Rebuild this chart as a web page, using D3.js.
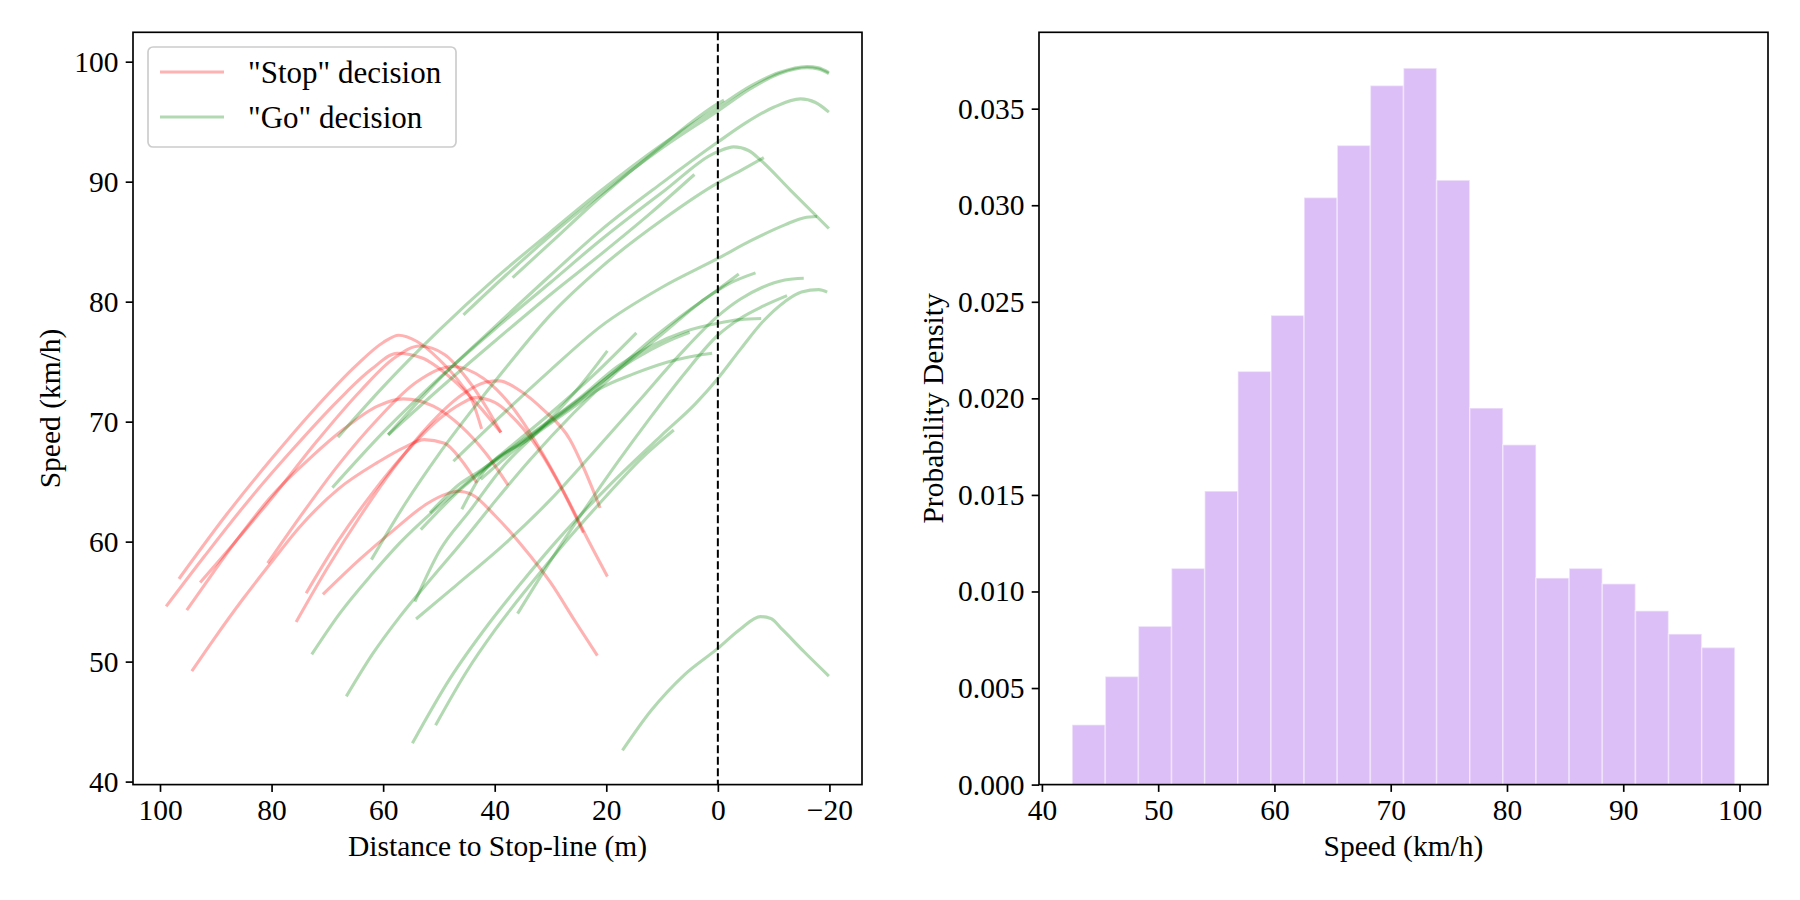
<!DOCTYPE html>
<html>
<head>
<meta charset="utf-8">
<script src="https://cdn.jsdelivr.net/npm/d3@7.9.0/dist/d3.min.js"></script>
<style>
  html, body { margin: 0; padding: 0; background: #fff; }
  svg { display: block; font-family: "Liberation Serif", "Times New Roman", serif; }
</style>
</head>
<body>
<svg id="chart" width="1800" height="900"></svg>
<script>
// speed profiles: [distance to stop-line (m), speed (km/h)]
const stopRuns = [
  [[96.6,56.9],[88,62.3],[80,66.9],[72,71.2],[65,74.6],[60,76.6],[57.2,77.2],[54,76.7],[50,75.2],[46,73.1],[44,71.7],[42.35,69.4]],
  [[98.9,54.6],[92,58.8],[84,63.5],[76,67.8],[68,71.8],[62,74.4],[57.5,75.7],[53,75.3],[48,73.7],[43,71.4],[38.9,69.1]],
  [[92.8,56.6],[86.3,60.1],[80,63.6],[72,68.3],[64,72.6],[58,75.3],[53.5,76.3],[49,75.6],[45,73.6],[41.5,71.2],[38.9,69.1]],
  [[80.7,58.2],[75,62.0],[68,66.4],[61,70.2],[54,73.3],[47.5,74.6],[42,73.6],[37,71.3],[32,67.8],[27,63.6],[23,59.9],[19.8,57.1]],
  [[95.2,54.3],[90.5,57.4],[86.3,60.1],[80,63.8],[73,67.0],[67,69.4],[61,71.3],[56.4,71.9],[51,71.3],[46,69.6],[41.5,67.3],[37.6,64.7]],
  [[75.6,53.3],[70,57.8],[64,62.2],[58,66.2],[52,69.6],[46,72.2],[41.5,73.3],[39.2,73.4],[35.5,72.6],[31.3,71.0],[26.5,68.5],[24.1,66.2],[21.1,62.8]],
  [[73.8,55.7],[68,60.1],[62,64.0],[56,67.4],[50,70.2],[46,71.5],[43.5,72.0],[40,71.6],[36,70.0],[32,67.6],[28,64.4],[24.1,60.75]],
  [[70.8,55.6],[64,58.6],[58,61.0],[52,63.2],[48.5,64.0],[46.6,64.2],[44,63.9],[40,62.2],[35,59.6],[30,56.6],[25.5,53.3],[21.6,50.5]],
  [[94.3,49.2],[90.3,51.9],[85,55.3],[80,58.3],[75,61.2],[68,64.4],[61,66.6],[56,67.9],[52.6,68.5],[49,68.2],[46,66.8],[43.2,64.9]]
];

const goRuns = [
  [[68.1,68.7],[60,72.9],[50,77.6],[40,81.9],[30,85.8],[21.1,89.2],[10,93.1],[0,96.2],[-6,98.0],[-11,99.1],[-16,99.6],[-18,99.5],[-19.9,99.1]],
  [[45.6,78.9],[38,82.2],[30,85.5],[21.1,88.9],[10,92.8],[0,95.9],[-6,97.8],[-11,99.0],[-16,99.5],[-18,99.4],[-19.9,99.0]],
  [[36.8,82.0],[30,84.9],[21.1,88.7],[10,93.0],[0,96.5],[-1.1,96.8]],
  [[59.1,68.9],[50,73.5],[40,77.9],[30,82.2],[21.1,85.9],[10,89.9],[0,93.3],[-5,94.9],[-10,96.2],[-14.8,96.9],[-17.5,96.6],[-19.9,95.8]],
  [[69.1,64.5],[60,69.1],[50,73.6],[40,77.7],[30,81.6],[21.1,85.1],[10,89.1],[0,92.5],[-2.85,92.9],[-5.5,92.6],[-7.65,91.8],[-13,89.3],[-19.9,86.1]],
  [[59.1,68.9],[50,72.7],[40,76.7],[30,80.6],[21.1,83.9],[12,87.4],[4.2,90.6]],
  [[62.1,58.5],[56,63.2],[50,67.3],[44,71.0],[38,74.5],[30,78.9],[21.1,82.8],[10,86.8],[0,89.9],[-4,90.9],[-8.24,92.0]],
  [[47.4,66.7],[40,70.0],[30,74.3],[21.1,77.9],[10,81.2],[0,83.6],[-6,85.1],[-12,86.4],[-15.5,87.0],[-17.8,87.1]],
  [[53.25,61.0],[46,64.4],[42.65,65.7],[33.7,68.8],[24.7,71.9],[18,74.3],[12,76.0],[8,76.9],[5.05,77.45]],
  [[45.9,62.7],[42.65,65.4],[33.7,68.6],[24.7,71.6],[21.7,72.6],[15,74.0],[8,75.1],[4,75.5],[1.03,75.7]],
  [[51.6,62.4],[46,64.9],[42.65,65.9],[33.7,68.9],[24.7,72.0],[18,74.6],[12,76.3],[6,77.5],[0,78.2],[-4,78.5],[-7.77,78.6]],
  [[72.8,50.6],[67.8,54.0],[61.8,57.4],[57,59.9],[51.6,62.3],[45,64.9],[38,67.6],[30,70.7],[22,74.0],[14.6,77.4]],
  [[54.3,55.0],[49.8,59.3],[44.4,62.6],[38.4,66.3],[31.3,69.6],[25,72.8],[19.8,75.9]],
  [[66.6,47.1],[61.8,50.7],[57,53.75],[51.6,56.8],[45.6,60.1],[39.7,63.5],[33.7,66.8],[25.9,70.7],[18,74.2],[10,77.3],[3,80.0],[0,81.0],[-3.75,82.3]],
  [[42.5,65.2],[33.7,68.7],[24.7,71.8],[19,74.0],[11,77.2],[3,80.0],[-2,81.5],[-6.75,82.4]],
  [[54.1,53.55],[46.8,56.4],[38,59.9],[30,63.5],[22,67.6],[14,71.8],[7,75.5],[0,78.8],[-4,80.2],[-8,81.2],[-12,81.8],[-15.4,81.95]],
  [[35.9,54.0],[30,58.4],[24,62.6],[18,66.6],[12,70.4],[6,74.0],[0,77.2],[-4,78.6],[-8,79.6],[-12.4,80.5]],
  [[54.75,43.2],[48,48.6],[41,53.2],[35,56.7],[29,60.0],[19,64.9],[10,68.9],[4,71.5],[0,73.6],[-4,76.0],[-8,78.3],[-12,80.0],[-15,80.8],[-18.1,81.0],[-19.6,80.8]],
  [[50.6,44.7],[45,49.2],[40,52.6],[34,56.2],[28,59.6],[20,63.8],[14,66.8],[7.9,69.3]],
  [[17.1,42.6],[12,45.9],[6,48.9],[0,51.1],[-4,52.7],[-7.65,53.75],[-9.5,53.6],[-11.5,52.7],[-15.5,50.8],[-19.9,48.8]]
];

// histogram of speeds
const binEdges = [42.6, 45.45, 48.3, 51.15, 54.0, 56.85, 59.7, 62.55, 65.4, 68.25, 71.1,
                  73.95, 76.8, 79.65, 82.5, 85.35, 88.2, 91.05, 93.9, 96.75, 99.6];
const densities = [0.0031, 0.0056, 0.0082, 0.0112, 0.0152, 0.0214, 0.0243, 0.0304, 0.0331, 0.0362,
                   0.0371, 0.0313, 0.0195, 0.0176, 0.0107, 0.0112, 0.0104, 0.0090, 0.0078, 0.0071];

const distTicks = [100, 80, 60, 40, 20, 0, -20];
const speedTicks = [40, 50, 60, 70, 80, 90, 100];
const histSpeedTicks = [40, 50, 60, 70, 80, 90, 100];
const densityTicks = [0, 0.005, 0.010, 0.015, 0.020, 0.025, 0.030, 0.035];

const fontPx = 29.5;
const legendFontPx = 31;
const lineW = 3.1;
const spineW = 1.67;
const tickLen = 7.3;
const tickPad = 7.3;

const svg = d3.select('#chart');

const plotTop = 32.3, plotBottom = 784.6;
const left1 = 133, right1 = 862;
const left2 = 1039, right2 = 1768;

function padded(ext) {
    const m = (ext[1] - ext[0]) * 0.05;
    return [ext[0] - m, ext[1] + m];
}

// ---------- left panel ----------
const allPts = stopRuns.concat(goRuns).flat();
const dExt = padded(d3.extent(allPts, d => d[0]));
const vExt = padded(d3.extent(allPts, d => d[1]));

const x1 = d3.scaleLinear().domain([dExt[1], dExt[0]]).range([left1, right1]);
const y1 = d3.scaleLinear().domain(vExt).range([plotBottom, plotTop]);

const g1 = svg.append('g');

const line1 = d3.line()
    .x(d => x1(d[0]))
    .y(d => y1(d[1]))
    .curve(d3.curveMonotoneX);

g1.selectAll('path.stop')
    .data(stopRuns)
    .join('path')
    .attr('class', 'stop')
    .attr('d', line1)
    .attr('fill', 'none')
    .attr('stroke', 'red')
    .attr('stroke-opacity', 0.3)
    .attr('stroke-width', lineW);

g1.selectAll('path.go')
    .data(goRuns)
    .join('path')
    .attr('class', 'go')
    .attr('d', line1)
    .attr('fill', 'none')
    .attr('stroke', 'green')
    .attr('stroke-opacity', 0.3)
    .attr('stroke-width', lineW);

// stop-line
g1.append('line')
    .attr('x1', x1(0)).attr('x2', x1(0))
    .attr('y1', plotTop).attr('y2', plotBottom)
    .attr('stroke', 'black')
    .attr('stroke-width', 2)
    .attr('stroke-dasharray', '8,3.5');

const fmtDist = d => d < 0 ? '\u2212' + Math.abs(d) : String(d);

function styleAxis(g) {
    g.select('.domain').remove();
    g.selectAll('.tick line').attr('stroke', 'black').attr('stroke-width', spineW);
    g.selectAll('.tick text').attr('fill', 'black').style('font-size', fontPx + 'px')
        .style('font-family', '"Liberation Serif", "Times New Roman", serif');
}

svg.append('g')
    .attr('transform', `translate(0,${plotBottom})`)
    .call(d3.axisBottom(x1).tickValues(distTicks).tickFormat(fmtDist)
        .tickSize(tickLen).tickPadding(tickPad).tickSizeOuter(0))
    .call(styleAxis);

svg.append('g')
    .attr('transform', `translate(${left1},0)`)
    .call(d3.axisLeft(y1).tickValues(speedTicks).tickFormat(d3.format('d'))
        .tickSize(tickLen).tickPadding(tickPad).tickSizeOuter(0))
    .call(styleAxis);

svg.append('rect')
    .attr('x', left1).attr('y', plotTop)
    .attr('width', right1 - left1).attr('height', plotBottom - plotTop)
    .attr('fill', 'none').attr('stroke', 'black').attr('stroke-width', spineW);

svg.append('text')
    .attr('x', (left1 + right1) / 2).attr('y', 856)
    .attr('text-anchor', 'middle')
    .style('font-size', fontPx + 'px')
    .text('Distance to Stop-line (m)');

svg.append('text')
    .attr('transform', `translate(60,${(plotTop + plotBottom) / 2}) rotate(-90)`)
    .attr('text-anchor', 'middle')
    .style('font-size', fontPx + 'px')
    .text('Speed (km/h)');

// legend
const legend = svg.append('g');
legend.append('rect')
    .attr('x', 148).attr('y', 47)
    .attr('width', 308).attr('height', 100)
    .attr('rx', 5).attr('ry', 5)
    .attr('fill', 'white').attr('fill-opacity', 0.8)
    .attr('stroke', '#cccccc').attr('stroke-width', spineW);

const legendItems = [
    { label: '"Stop" decision', color: 'red' },
    { label: '"Go" decision', color: 'green' }
];
legendItems.forEach((d, i) => {
    const cy = 72 + i * 45;
    legend.append('line')
        .attr('x1', 160).attr('x2', 224)
        .attr('y1', cy).attr('y2', cy)
        .attr('stroke', d.color).attr('stroke-opacity', 0.3)
        .attr('stroke-width', lineW);
    legend.append('text')
        .attr('x', 248).attr('y', cy + 11)
        .style('font-size', legendFontPx + 'px')
        .text(d.label);
});

// ---------- right panel ----------
const x2 = d3.scaleLinear().domain(padded(d3.extent(binEdges))).range([left2, right2]);
const y2 = d3.scaleLinear().domain([0, d3.max(densities) * 1.05]).range([plotBottom, plotTop]);

svg.append('g')
    .selectAll('rect')
    .data(densities)
    .join('rect')
    .attr('x', (d, i) => x2(binEdges[i]))
    .attr('width', (d, i) => x2(binEdges[i + 1]) - x2(binEdges[i]))
    .attr('y', d => y2(d))
    .attr('height', d => plotBottom - y2(d))
    .attr('fill', 'blueviolet')
    .attr('fill-opacity', 0.3)
    .attr('stroke', 'white')
    .attr('stroke-opacity', 0.45)
    .attr('stroke-width', 1.6);

svg.append('g')
    .attr('transform', `translate(0,${plotBottom})`)
    .call(d3.axisBottom(x2).tickValues(histSpeedTicks).tickFormat(d3.format('d'))
        .tickSize(tickLen).tickPadding(tickPad).tickSizeOuter(0))
    .call(styleAxis);

svg.append('g')
    .attr('transform', `translate(${left2},0)`)
    .call(d3.axisLeft(y2).tickValues(densityTicks).tickFormat(d3.format('.3f'))
        .tickSize(tickLen).tickPadding(tickPad).tickSizeOuter(0))
    .call(styleAxis);

svg.append('rect')
    .attr('x', left2).attr('y', plotTop)
    .attr('width', right2 - left2).attr('height', plotBottom - plotTop)
    .attr('fill', 'none').attr('stroke', 'black').attr('stroke-width', spineW);

svg.append('text')
    .attr('x', (left2 + right2) / 2).attr('y', 856)
    .attr('text-anchor', 'middle')
    .style('font-size', fontPx + 'px')
    .text('Speed (km/h)');

svg.append('text')
    .attr('transform', `translate(943,${(plotTop + plotBottom) / 2}) rotate(-90)`)
    .attr('text-anchor', 'middle')
    .style('font-size', fontPx + 'px')
    .text('Probability Density');
</script>
</body>
</html>
